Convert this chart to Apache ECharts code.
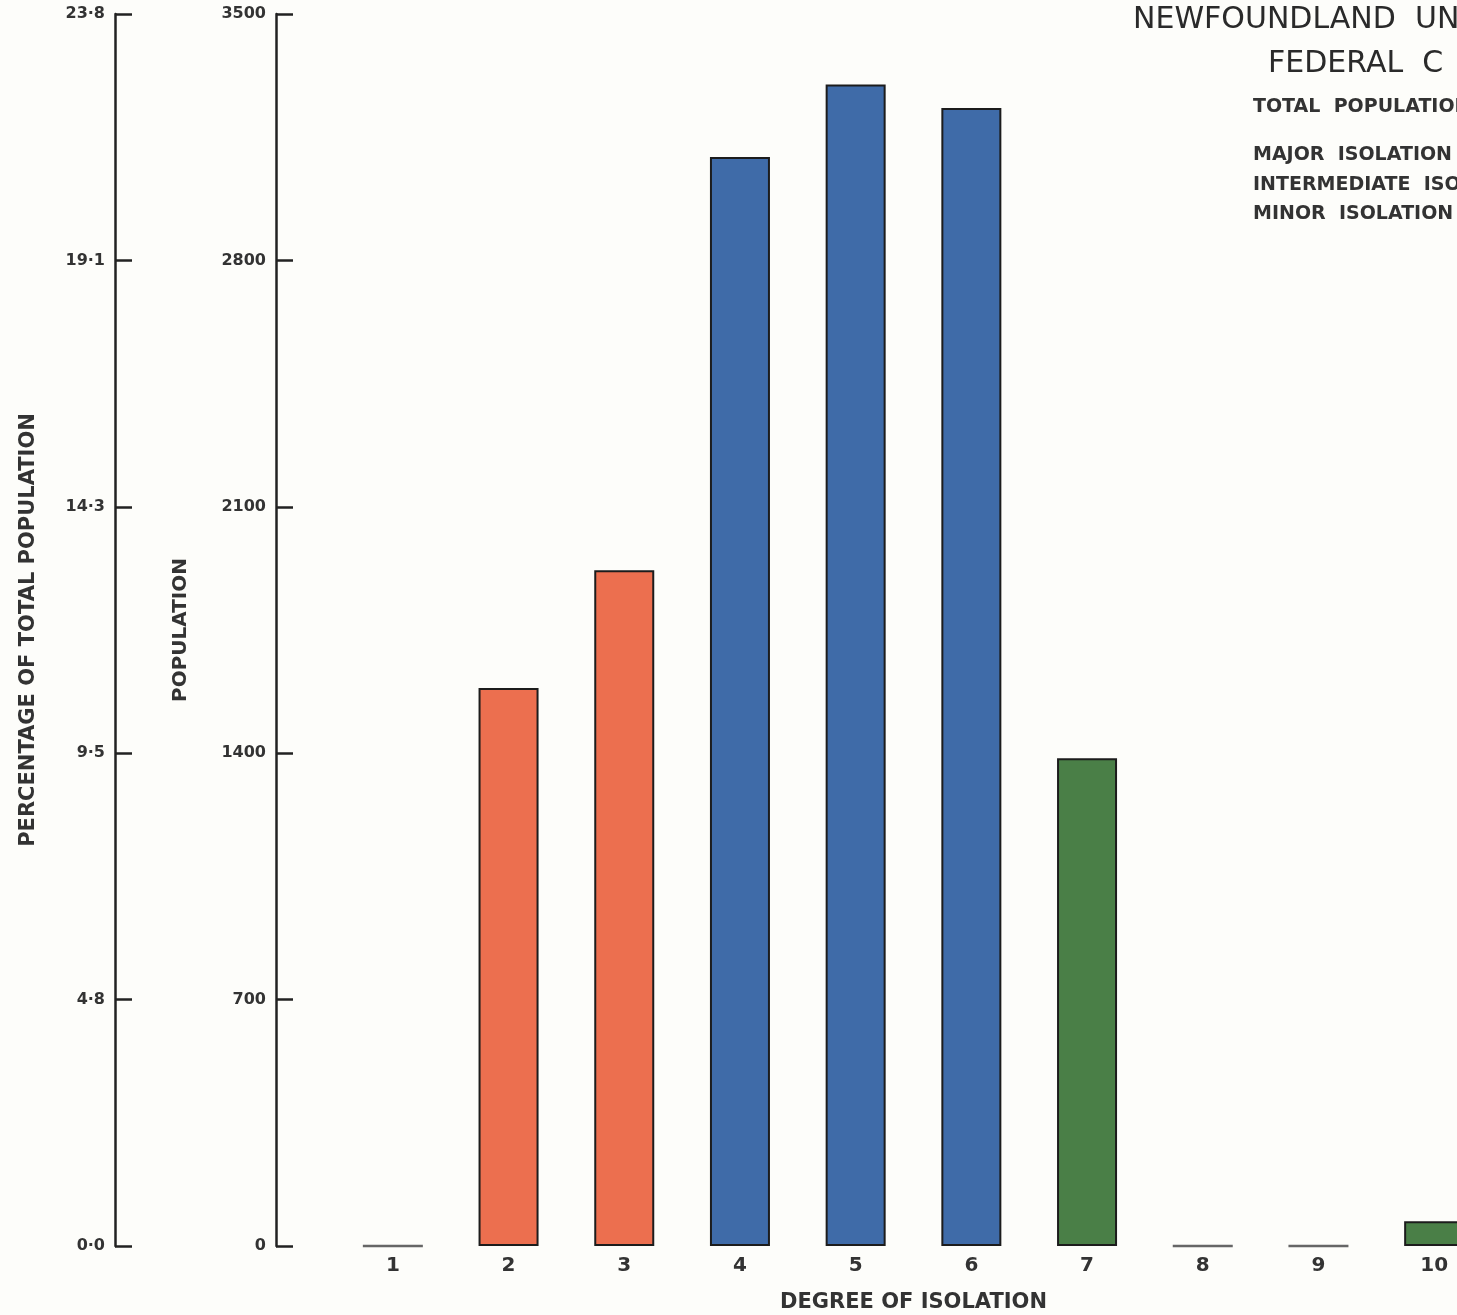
<!DOCTYPE html>
<html>
<head>
<meta charset="utf-8">
<script src="https://cdn.jsdelivr.net/npm/echarts@6/dist/echarts.min.js"></script>
<style>
html,body{margin:0;padding:0;background:#fdfdfa;}
#chart{width:1457px;height:1315px;}
</style>
</head>
<body>
<div id="chart"></div>
<script>
// ---- data ----
const categories = ['1','2','3','4','5','6','7','8','9','10'];
const population = [0, 1585, 1920, 3094, 3300, 3233, 1386, 0, 0, 70];
const isolationGroup = ['major','major','major','intermediate','intermediate','intermediate','minor','minor','minor','minor'];
const populationTicks = ['0','700','1400','2100','2800','3500'];
const percentTicks = ['0·0','4·8','9·5','14·3','19·1','23·8'];
const groupColors = { major: '#ec6f4f', intermediate: '#3f6ba8', minor: '#4a7f47' };
const titleLines = ['NEWFOUNDLAND  UN', 'FEDERAL  C'];
const legendLines = ['TOTAL  POPULATION', 'MAJOR  ISOLATION', 'INTERMEDIATE  ISOLATION', 'MINOR  ISOLATION'];

const FONT = 'DejaVu Sans';
const INK = '#222';

const chart = echarts.init(document.getElementById('chart'), null, {renderer: 'canvas'});

function tickAxis(labels, offset, name, nameGap, nameSize) {
  return {
    type: 'value',
    position: 'left',
    offset: offset,
    min: 0, max: 3500, interval: 700,
    splitLine: {show: false},
    axisLine: {show: true, lineStyle: {color: INK, width: 2.5}},
    axisTick: {show: true, inside: true, length: 17, lineStyle: {color: INK, width: 2.5}},
    axisLabel: {
      show: true, margin: 10,
      fontFamily: FONT, fontWeight: 'bold', fontSize: 16, color: '#333',
      formatter: v => labels[Math.round(v / 700)]
    },
    name: name, nameLocation: 'middle', nameGap: nameGap,
    nameTextStyle: {fontFamily: FONT, fontWeight: 'bold', fontSize: nameSize, color: '#333'}
  };
}

const barData = population.map((v, i) => {
  const item = {value: v};
  if (v === 0) {
    item.itemStyle = {color: '#666', borderColor: '#666', borderWidth: 2.5};
  } else {
    item.itemStyle = {color: groupColors[isolationGroup[i]], borderColor: '#1c1c1c', borderWidth: 2};
  }
  return item;
});

const graphics = [];
titleLines.forEach((t, i) => {
  graphics.push({
    type: 'text', left: i === 0 ? 1133 : 1268, top: i === 0 ? 5 : 49,
    style: {text: t, font: `30px "${FONT}"`, fill: '#2a2a2a', letterSpacing: 3.6}
  });
});
const legendY = [98, 146, 176, 205];
legendLines.forEach((t, i) => {
  graphics.push({
    type: 'text', left: 1253, top: legendY[i],
    style: {text: t, font: `bold 19px "${FONT}"`, fill: '#333', letterSpacing: 2}
  });
});

chart.setOption({
  backgroundColor: '#fdfdfa',
  animation: false,
  grid: {left: 335, right: -35, top: 14, bottom: 69, outerBoundsMode: 'none', containLabel: false},
  xAxis: {
    type: 'category',
    data: categories,
    axisLine: {show: false},
    axisTick: {show: false},
    axisLabel: {margin: 10, fontFamily: FONT, fontWeight: 'bold', fontSize: 20, color: '#333'},
    name: 'DEGREE OF ISOLATION', nameLocation: 'middle', nameGap: 46,
    nameTextStyle: {fontFamily: FONT, fontWeight: 'bold', fontSize: 21, color: '#333'}
  },
  yAxis: [
    tickAxis(populationTicks, 59, 'POPULATION', 85, 20),
    tickAxis(percentTicks, 220, 'PERCENTAGE OF TOTAL POPULATION', 76, 21)
  ],
  series: [{
    type: 'bar',
    yAxisIndex: 0,
    data: barData,
    barWidth: 60,
    label: {show: false}
  }],
  graphic: graphics
});
</script>
</body>
</html>
